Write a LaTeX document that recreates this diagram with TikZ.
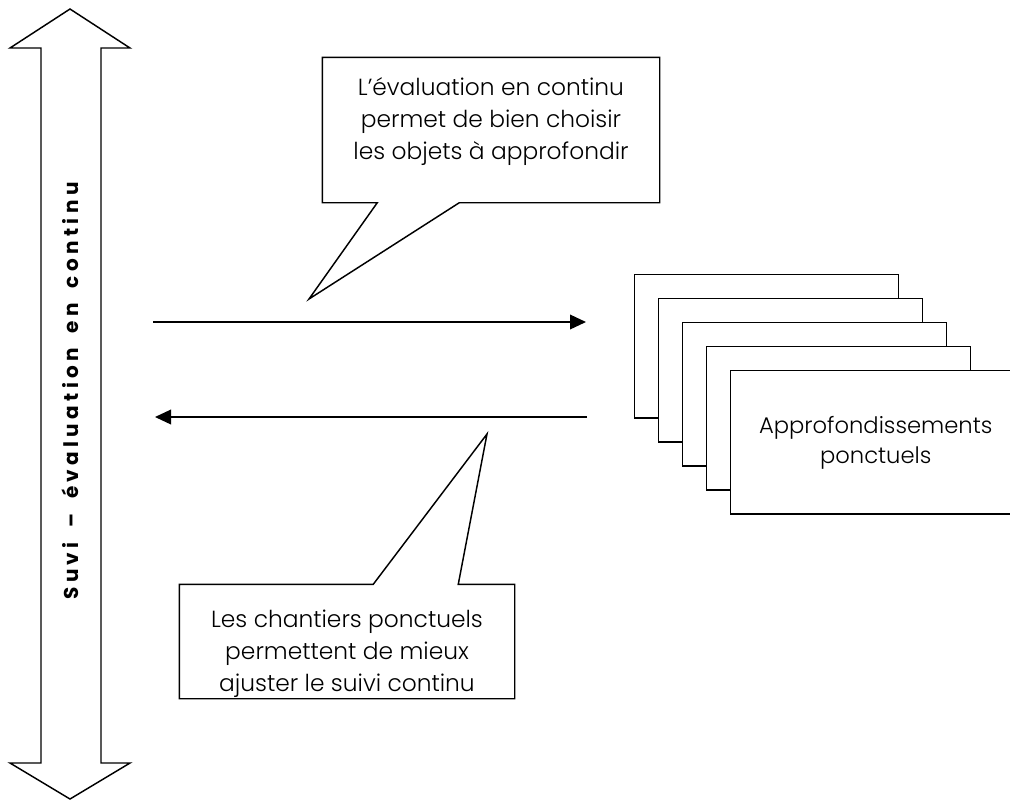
\documentclass[tikz,border=0pt]{standalone}
\usepackage{fontspec}
\setmainfont{Poppins}[UprightFont=* Light, BoldFont=* SemiBold]
\newfontfamily\sidefont{Poppins}[UprightFont=* Bold, LetterSpace=22, WordSpace=1.7]
\usetikzlibrary{arrows.meta, positioning}

\begin{document}
\begin{tikzpicture}[
    x=0.75pt, y=-0.75pt,
    line width=1.1pt,
    card/.style={draw, fill=white, anchor=north west, minimum width=198pt, minimum height=107.5pt, inner sep=0pt, align=center, font=\fontsize{17}{22.5}\selectfont},
    bubble/.style={inner sep=0pt},
    say/.style={align=center, inner sep=0pt, font=\fontsize{17.5}{24}\selectfont},
    arrow/.style={-{Triangle[length=12pt, width=11pt]}}
]
    \useasboundingbox (0,0) rectangle (1010,801);

    \draw (70,9) -- (130,48) -- (101,48) -- (101,763) -- (130,763) -- (70,799)
        -- (10,763) -- (41,763) -- (41,48) -- (10,48) -- cycle;
    \node[rotate=90, font={\sidefont\fontsize{15}{15}\selectfont}] (suivi) at (70,391) {Suvi – évaluation en continu};

    \node[card] (c1) at (634,274) {};
    \node[card, below right=18pt and 18pt of c1.north west] (c2) {};
    \node[card, below right=18pt and 18pt of c2.north west] (c3) {};
    \node[card, below right=18pt and 18pt of c3.north west] (c4) {};
    \node[card, minimum width=217.5pt, below right=18pt and 18pt of c4.north west] (c5) {Approfondissements\\ponctuels};

    \coordinate (fwdstart) at (153,322);
    \coordinate (fwdend) at (586,322);
    \coordinate (backstart) at (587,417);
    \coordinate (backend) at (155,417);
    \draw[arrow] (fwdstart) -- (fwdend);
    \draw[arrow] (backstart) -- (backend);

    \node[bubble, minimum width=252pt, minimum height=108pt] (eval) at (491,130) {};
    \node[say, below=15pt of eval.north] (evaltext) {L’évaluation en continu\\permet de bien choisir\\les objets à approfondir};
    \coordinate (evaltip) at (309,299);
    \draw (eval.south west) -- (eval.north west) -- (eval.north east) -- (eval.south east)
        -- ([xshift=102.75pt]eval.south west) -- (evaltip) -- ([xshift=41.25pt]eval.south west) -- cycle;

    \node[bubble, minimum width=250.5pt, minimum height=84.75pt] (adjust) at (347,641.5) {};
    \node[say, below=19pt of adjust.north] (adjusttext) {Les chantiers ponctuels\\permettent de mieux\\ajuster le suivi continu};
    \coordinate (adjusttip) at (487,434);
    \draw (adjust.north west) -- ([xshift=145.5pt]adjust.north west) -- (adjusttip)
        -- ([xshift=209.25pt]adjust.north west) -- (adjust.north east) -- (adjust.south east) -- (adjust.south west) -- cycle;
\end{tikzpicture}
\end{document}
